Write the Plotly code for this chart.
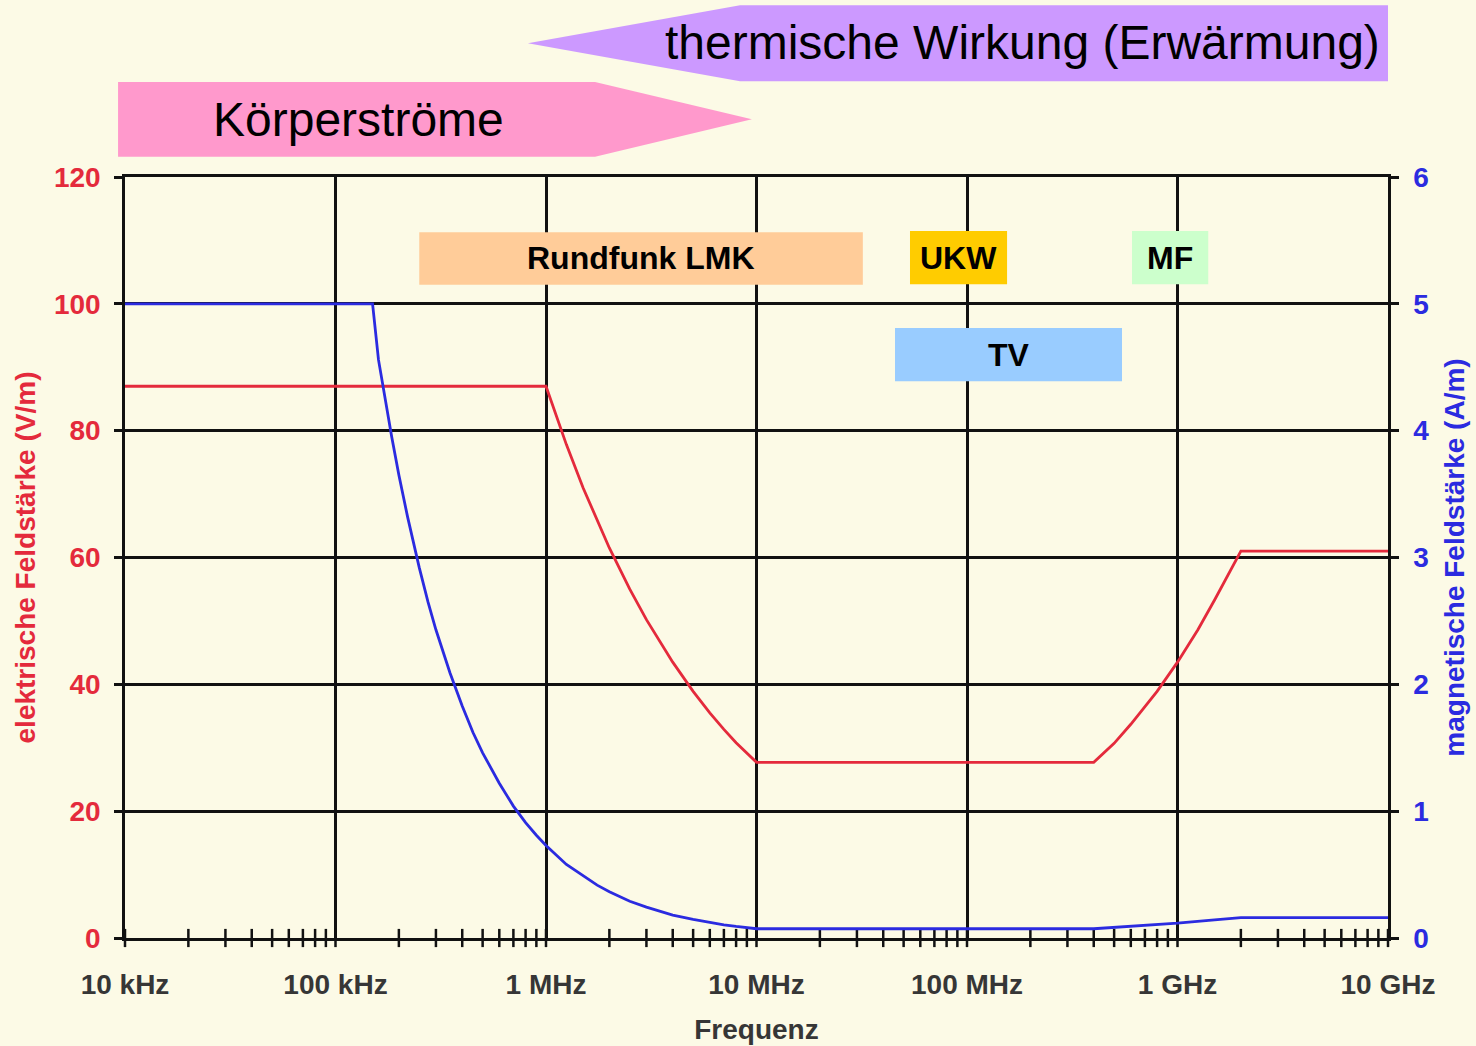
import math
import plotly.graph_objects as go

# ---------------- data ----------------
# electric field strength limit (V/m)
e_freq = [1e4, 1e6, 1.25e6, 1.5e6, 2e6, 2.5e6, 3e6, 4e6, 5e6, 6e6, 7e6, 8e6, 1e7,
          4e8, 5e8, 6e8, 8e8, 1e9, 1.25e9, 1.5e9, 2e9, 1e10]
e_vals = [87, 87, 77.8, 71.0, 61.5, 55.0, 50.2, 43.5, 38.9, 35.5, 32.9, 30.8, 27.7,
          27.7, 30.7, 33.7, 38.9, 43.5, 48.6, 53.3, 61.0, 61.0]

# magnetic field strength limit (A/m)
h_freq = [1e4, 1.5e5, 1.6e5, 1.75e5, 1.85e5, 2e5, 2.2e5, 2.5e5, 2.75e5, 3e5, 3.5e5,
          4e5, 4.5e5, 5e5, 6e5, 7e5, 8e5, 9e5, 1e6,
          1.25e6, 1.5e6, 1.75e6, 2e6, 2.5e6, 3e6, 3.5e6, 4e6, 5e6, 6e6, 7e6, 8e6, 1e7,
          4e8, 5e8, 6e8, 8e8, 1e9, 1.5e9, 2e9, 1e10]
h_vals = [5, 5, 4.56, 4.17, 3.95, 3.65, 3.32, 2.92, 2.65, 2.43, 2.09,
          1.83, 1.62, 1.46, 1.22, 1.04, 0.91, 0.81, 0.73,
          0.58, 0.49, 0.417, 0.365, 0.29, 0.243, 0.209, 0.18, 0.146, 0.12, 0.104,
          0.091, 0.073,
          0.073, 0.083, 0.091, 0.105, 0.117, 0.143, 0.16, 0.16]

x_tickvals = [1e4, 1e5, 1e6, 1e7, 1e8, 1e9, 1e10]
x_ticktext = ["10 kHz", "100 kHz", "1 MHz", "10 MHz", "100 MHz", "1 GHz", "10 GHz"]
e_ticks = [0, 20, 40, 60, 80, 100, 120]
h_ticks = [0, 1, 2, 3, 4, 5, 6]

# frequency band labels
band_labels = ["Rundfunk LMK", "UKW", "MF", "TV"]
band_start = [2.5e5, 5.36e7, 6.08e8, 4.55e7]
band_end = [3.2e7, 1.55e8, 1.40e9, 5.45e8]
band_top = [111.3, 111.5, 111.5, 96.2]
band_bottom = [103.0, 103.1, 103.1, 87.8]
band_colors = ["#FFCC99", "#FFCC00", "#CCFFCC", "#99CCFF"]

# effect banners
banner_labels = ["Körperströme", "thermische Wirkung (Erwärmung)"]

# ---------------- layout helpers ----------------
X_MIN, X_MAX = 4, 10
Y_MAX = 120
BG = "#FCFAE6"
RED = "#E42A3C"
BLUE = "#2B2BE0"
GREY = "#363636"
FONT = "Liberation Sans"


def fx(freq):
    return (math.log10(freq) - X_MIN) / (X_MAX - X_MIN)


def fy(v):
    return v / Y_MAX


fig = go.Figure()

fig.add_trace(go.Scatter(x=e_freq, y=e_vals, mode="lines", yaxis="y",
                         line=dict(color=RED, width=2.8), hoverinfo="skip",
                         showlegend=False))
fig.add_trace(go.Scatter(x=h_freq, y=h_vals, mode="lines", yaxis="y2",
                         line=dict(color=BLUE, width=2.8),
                         hoverinfo="skip", showlegend=False))

# crossing tick marks on the frequency axis (decades + 2..9 minor)
tick_f = []
for d in range(X_MIN, X_MAX):
    for m in range(1, 10):
        tick_f.append(m * 10 ** d)
tick_f.append(10 ** X_MAX)
fig.add_trace(go.Scatter(x=tick_f, y=[0] * len(tick_f), mode="markers", yaxis="y",
                         marker=dict(symbol="line-ns", size=13,
                                     line=dict(color="#111", width=2.5)),
                         cliponaxis=False, hoverinfo="skip", showlegend=False))

shapes = []
annotations = []

# band boxes
for lab, f0, f1, vt, vb, col in zip(band_labels, band_start, band_end,
                                     band_top, band_bottom, band_colors):
    shapes.append(dict(type="rect", xref="paper", yref="paper",
                       x0=fx(f0), x1=fx(f1), y0=fy(vb), y1=fy(vt),
                       fillcolor=col, line=dict(width=0), layer="above"))
    annotations.append(dict(text=lab, xref="paper", yref="paper",
                            x=(fx(f0) + fx(f1)) / 2, y=(fy(vb) + fy(vt)) / 2,
                            showarrow=False, xanchor="center", yanchor="middle",
                            font=dict(family=FONT, size=32, color="black",
                                      weight="bold")))

# banner: Körperströme (arrow pointing right)
k_x0, k_x1, k_tip = fx(10 ** 3.967), fx(10 ** 6.233), fx(10 ** 6.978)
k_top, k_bot, k_mid = fy(135.0), fy(123.2), fy(129.1)
shapes.append(dict(type="path", xref="paper", yref="paper",
                   path=f"M {k_x0},{k_bot} L {k_x1},{k_bot} L {k_tip},{k_mid} "
                        f"L {k_x1},{k_top} L {k_x0},{k_top} Z",
                   fillcolor="#FF99CC", line=dict(width=0), layer="above"))
annotations.append(dict(text=banner_labels[0], xref="paper", yref="paper",
                        x=fx(10 ** 5.107), y=fy(129.0), showarrow=False,
                        xanchor="center", yanchor="middle",
                        font=dict(family=FONT, size=48, color="black")))

# banner: thermische Wirkung (arrow pointing left)
t_tip, t_x0, t_x1 = fx(10 ** 5.914), fx(10 ** 6.922), fx(10 ** 10)
t_top, t_bot, t_mid = fy(147.1), fy(135.1), fy(141.1)
shapes.append(dict(type="path", xref="paper", yref="paper",
                   path=f"M {t_tip},{t_mid} L {t_x0},{t_bot} L {t_x1},{t_bot} "
                        f"L {t_x1},{t_top} L {t_x0},{t_top} Z",
                   fillcolor="#CC99FF", line=dict(width=0), layer="above"))
annotations.append(dict(text=banner_labels[1], xref="paper", yref="paper",
                        x=fx(10 ** 8.266), y=fy(141.2), showarrow=False,
                        xanchor="center", yanchor="middle",
                        font=dict(family=FONT, size=48, color="black")))

fig.update_layout(
    width=1476, height=1046,
    margin=dict(l=125, r=88, t=177, b=108, autoexpand=False),
    paper_bgcolor=BG, plot_bgcolor=BG,
    showlegend=False,
    shapes=shapes, annotations=annotations,
    xaxis=dict(type="log", range=[X_MIN, X_MAX], automargin=False,
               tickvals=x_tickvals, ticktext=x_ticktext, ticks="",
               ticklabelstandoff=20,
               tickfont=dict(family=FONT, size=28, color=GREY, weight="bold"),
               showgrid=True, gridcolor="#111", gridwidth=2.5,
               showline=True, linecolor="#111", linewidth=2.5, mirror=True,
               zeroline=False,
               title=dict(text="Frequenz", standoff=21,
                          font=dict(family=FONT, size=28, color=GREY,
                                    weight="bold"))),
    yaxis=dict(range=[0, Y_MAX], tickvals=e_ticks, ticks="outside",
               automargin=False,
               ticklen=8, tickwidth=2.5, tickcolor="#111",
               ticklabelstandoff=8,
               tickfont=dict(family=FONT, size=28, color=RED, weight="bold"),
               showgrid=True, gridcolor="#111", gridwidth=2.5,
               showline=True, linecolor="#111", linewidth=2.5, zeroline=False,
               title=dict(text="elektrische Feldstärke (V/m)", standoff=11,
                          font=dict(family=FONT, size=28, color=RED,
                                    weight="bold"))),
    yaxis2=dict(range=[0, 6], tickvals=h_ticks, overlaying="y", side="right",
                automargin=False,
                ticks="outside", ticklen=8, tickwidth=2.5, tickcolor="#111",
                ticklabelstandoff=9,
                tickfont=dict(family=FONT, size=28, color=BLUE, weight="bold"),
                showgrid=False, showline=True, linecolor="#111", linewidth=2.5,
                zeroline=False,
                title=dict(text="magnetische Feldstärke (A/m)", standoff=17,
                           font=dict(family=FONT, size=28, color=BLUE,
                                     weight="bold"))),
)

fig.write_html(
    "out.html",
    config={"displayModeBar": False},
    post_script=("document.body.style.margin='0';"
                 "document.body.style.background='" + BG + "';"
                 "document.body.style.overflow='hidden';"),
)
